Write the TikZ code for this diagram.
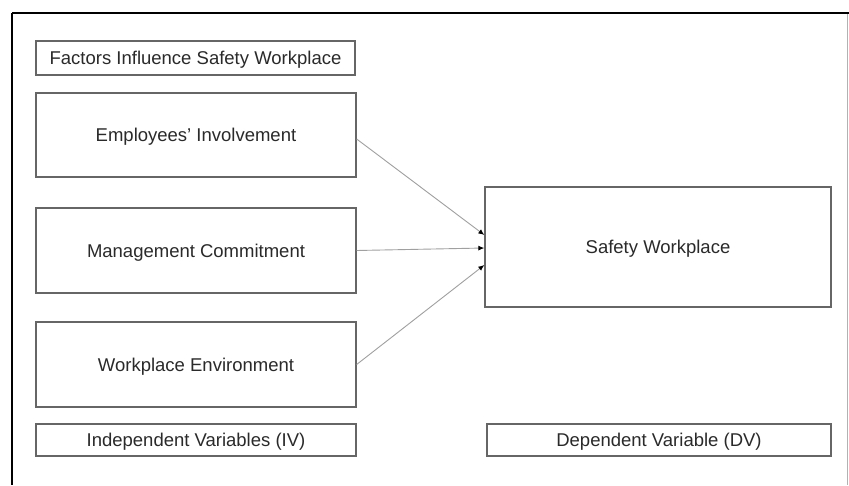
\documentclass[tikz,border=0pt]{standalone}
\usepackage{fontspec}
\setmainfont{Liberation Sans}
\usetikzlibrary{arrows.meta,calc}
\definecolor{boxline}{HTML}{666666}
\definecolor{txt}{HTML}{2A2A2A}
\definecolor{arrowline}{HTML}{A0A0A0}
\begin{document}
\begin{tikzpicture}[x=1pt,y=-1pt,
  box/.style={draw=boxline,line width=1.3pt,rectangle,inner sep=0pt,
    text=txt,font=\fontsize{18.5}{22}\selectfont,text height=13pt,text depth=0pt},
  conn/.style={draw=arrowline,line width=0.9pt,-{Latex[length=6pt,width=5pt,color=black]}}]
\useasboundingbox (0,0) rectangle (849,485);
\fill[white] (0,0) rectangle (849,485);
% outer frame
\draw[black,line width=2.6pt] (12,13) -- (849,13);
\draw[black,line width=2.6pt] (12,13) -- (12,485);
\draw[gray!60,line width=0.8pt] (847,14) -- (847,485);
% nodes
\node[box,minimum width=319pt,minimum height=34pt] (title) at (195.5,58) {Factors Influence Safety Workplace};
\node[box,minimum width=320pt,minimum height=84pt] (ei) at (196,135) {Employees' Involvement};
\node[box,minimum width=320pt,minimum height=85pt] (mc) at (196,250.5) {Management Commitment};
\node[box,minimum width=320pt,minimum height=85pt] (we) at (196,364.5) {Workplace Environment};
\node[box,minimum width=346pt,minimum height=120pt] (sw) at (658,247) {Safety Workplace};
\node[box,minimum width=320pt,minimum height=32pt] (iv) at (196,440) {Independent Variables (IV)};
\node[box,minimum width=344pt,minimum height=32pt] (dv) at (659,440) {Dependent Variable (DV)};
% connectors
\coordinate (t1) at ($(sw.west)+(0,-12)$);
\coordinate (t2) at ($(sw.west)+(0,1)$);
\coordinate (t3) at ($(sw.west)+(0,18)$);
\draw[conn] ($(ei.east)+(0,4)$) -- (t1);
\draw[conn] (mc.east) -- (t2);
\draw[conn] (we.east) -- (t3);
\end{tikzpicture}
\end{document}
